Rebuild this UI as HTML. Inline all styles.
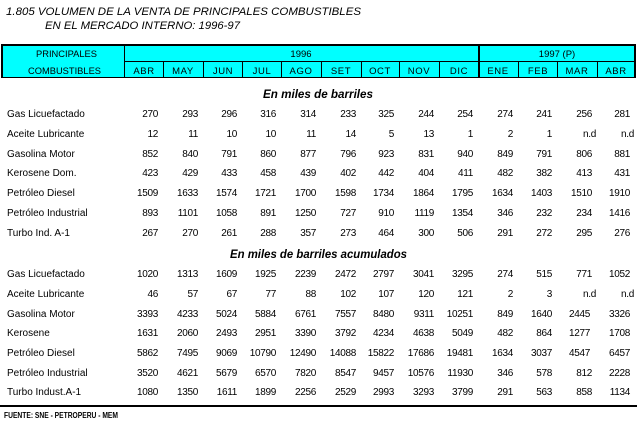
<!DOCTYPE html>
<html><head><meta charset="utf-8"><style>
html,body{margin:0;padding:0;background:#fff;}
svg{display:block;}
text{font-family:"Liberation Sans",Arial,sans-serif;fill:#000;}
.t{font-size:11px;font-style:italic;}
.h{font-size:9.5px;}
.s{font-size:11.5px;font-weight:bold;font-style:italic;}
.l{font-size:10px;}
.n{font-size:10px;letter-spacing:-0.3px;}
.f{font-size:8px;font-weight:bold;}
</style></head><body>
<svg width="637" height="424" viewBox="0 0 637 424" xmlns="http://www.w3.org/2000/svg">
<rect x="0" y="0" width="637" height="424" fill="#fff"/>
<text class="t" x="6" y="15" textLength="355" lengthAdjust="spacingAndGlyphs">1.805  VOLUMEN DE LA VENTA DE PRINCIPALES COMBUSTIBLES</text>
<text class="t" x="45" y="29" textLength="195" lengthAdjust="spacingAndGlyphs">EN EL MERCADO INTERNO: 1996-97</text>

<g shape-rendering="crispEdges">
<rect x="1" y="44" width="635" height="34" fill="#00ffff"/>
<rect x="1" y="44" width="635" height="2" fill="#000"/>
<rect x="1" y="77" width="635" height="1" fill="#000"/>
<rect x="124" y="61" width="511" height="1" fill="#000"/>
<rect x="1" y="44" width="2" height="34" fill="#000"/>
<rect x="634" y="44" width="2" height="34" fill="#000"/>
<rect x="124" y="44" width="1" height="34" fill="#000"/>
<rect x="478" y="44" width="2" height="34" fill="#000"/>
<rect x="163" y="61" width="1" height="17" fill="#000"/>
<rect x="203" y="61" width="1" height="17" fill="#000"/>
<rect x="242" y="61" width="1" height="17" fill="#000"/>
<rect x="281" y="61" width="1" height="17" fill="#000"/>
<rect x="321" y="61" width="1" height="17" fill="#000"/>
<rect x="361" y="61" width="1" height="17" fill="#000"/>
<rect x="399" y="61" width="1" height="17" fill="#000"/>
<rect x="439" y="61" width="1" height="17" fill="#000"/>
<rect x="518" y="61" width="1" height="17" fill="#000"/>
<rect x="557" y="61" width="1" height="17" fill="#000"/>
<rect x="597" y="61" width="1" height="17" fill="#000"/>
<rect x="0" y="405" width="637" height="2" fill="#000"/>
</g>

<text class="h" x="36" y="57" textLength="61" lengthAdjust="spacingAndGlyphs">PRINCIPALES</text>
<text class="h" x="28" y="74" textLength="73" lengthAdjust="spacingAndGlyphs">COMBUSTIBLES</text>
<text class="h" x="301" y="57" text-anchor="middle">1996</text>
<text class="h" x="557" y="57" text-anchor="middle">1997 (P)</text>
<text class="h" text-anchor="middle" y="74" letter-spacing="0.6"><tspan x="144">ABR</tspan><tspan x="183">MAY</tspan><tspan x="223">JUN</tspan><tspan x="262">JUL</tspan><tspan x="301">AGO</tspan><tspan x="341">SET</tspan><tspan x="380">OCT</tspan><tspan x="419">NOV</tspan><tspan x="459">DIC</tspan><tspan x="498">ENE</tspan><tspan x="538">FEB</tspan><tspan x="577">MAR</tspan><tspan x="616">ABR</tspan></text>

<text class="s" x="263" y="98" textLength="110" lengthAdjust="spacingAndGlyphs">En miles de barriles</text>
<text class="s" x="230" y="258" textLength="177" lengthAdjust="spacingAndGlyphs">En miles de barriles acumulados</text>

<text class="l" x="7" y="117">Gas Licuefactado</text>
<text class="l" x="7" y="137">Aceite Lubricante</text>
<text class="l" x="7" y="157">Gasolina Motor</text>
<text class="l" x="7" y="176">Kerosene Dom.</text>
<text class="l" x="7" y="196">Petróleo Diesel</text>
<text class="l" x="7" y="216">Petróleo Industrial</text>
<text class="l" x="7" y="236">Turbo Ind. A-1</text>

<text class="l" x="7" y="277">Gas Licuefactado</text>
<text class="l" x="7" y="297">Aceite Lubricante</text>
<text class="l" x="7" y="317">Gasolina Motor</text>
<text class="l" x="7" y="336">Kerosene</text>
<text class="l" x="7" y="356">Petróleo Diesel</text>
<text class="l" x="7" y="376">Petróleo Industrial</text>
<text class="l" x="7" y="395">Turbo Indust.A-1</text>

<text class="n" text-anchor="end" y="117"><tspan x="158">270</tspan><tspan x="198">293</tspan><tspan x="237">296</tspan><tspan x="276">316</tspan><tspan x="316">314</tspan><tspan x="356">233</tspan><tspan x="394">325</tspan><tspan x="434">244</tspan><tspan x="473">254</tspan><tspan x="513">274</tspan><tspan x="552">241</tspan><tspan x="592">256</tspan><tspan x="630">281</tspan></text>
<text class="n" text-anchor="end" y="137"><tspan x="158">12</tspan><tspan x="198">11</tspan><tspan x="237">10</tspan><tspan x="276">10</tspan><tspan x="316">11</tspan><tspan x="356">14</tspan><tspan x="394">5</tspan><tspan x="434">13</tspan><tspan x="473">1</tspan><tspan x="513">2</tspan><tspan x="552">1</tspan><tspan x="596">n.d</tspan><tspan x="634">n.d</tspan></text>
<text class="n" text-anchor="end" y="157"><tspan x="158">852</tspan><tspan x="198">840</tspan><tspan x="237">791</tspan><tspan x="276">860</tspan><tspan x="316">877</tspan><tspan x="356">796</tspan><tspan x="394">923</tspan><tspan x="434">831</tspan><tspan x="473">940</tspan><tspan x="513">849</tspan><tspan x="552">791</tspan><tspan x="592">806</tspan><tspan x="630">881</tspan></text>
<text class="n" text-anchor="end" y="176"><tspan x="158">423</tspan><tspan x="198">429</tspan><tspan x="237">433</tspan><tspan x="276">458</tspan><tspan x="316">439</tspan><tspan x="356">402</tspan><tspan x="394">442</tspan><tspan x="434">404</tspan><tspan x="473">411</tspan><tspan x="513">482</tspan><tspan x="552">382</tspan><tspan x="592">413</tspan><tspan x="630">431</tspan></text>
<text class="n" text-anchor="end" y="196"><tspan x="158">1509</tspan><tspan x="198">1633</tspan><tspan x="237">1574</tspan><tspan x="276">1721</tspan><tspan x="316">1700</tspan><tspan x="356">1598</tspan><tspan x="394">1734</tspan><tspan x="434">1864</tspan><tspan x="473">1795</tspan><tspan x="513">1634</tspan><tspan x="552">1403</tspan><tspan x="592">1510</tspan><tspan x="630">1910</tspan></text>
<text class="n" text-anchor="end" y="216"><tspan x="158">893</tspan><tspan x="198">1101</tspan><tspan x="237">1058</tspan><tspan x="276">891</tspan><tspan x="316">1250</tspan><tspan x="356">727</tspan><tspan x="394">910</tspan><tspan x="434">1119</tspan><tspan x="473">1354</tspan><tspan x="513">346</tspan><tspan x="552">232</tspan><tspan x="592">234</tspan><tspan x="630">1416</tspan></text>
<text class="n" text-anchor="end" y="236"><tspan x="158">267</tspan><tspan x="198">270</tspan><tspan x="237">261</tspan><tspan x="276">288</tspan><tspan x="316">357</tspan><tspan x="356">273</tspan><tspan x="394">464</tspan><tspan x="434">300</tspan><tspan x="473">506</tspan><tspan x="513">291</tspan><tspan x="552">272</tspan><tspan x="592">295</tspan><tspan x="630">276</tspan></text>

<text class="n" text-anchor="end" y="277"><tspan x="158">1020</tspan><tspan x="198">1313</tspan><tspan x="237">1609</tspan><tspan x="276">1925</tspan><tspan x="316">2239</tspan><tspan x="356">2472</tspan><tspan x="394">2797</tspan><tspan x="434">3041</tspan><tspan x="473">3295</tspan><tspan x="513">274</tspan><tspan x="552">515</tspan><tspan x="592">771</tspan><tspan x="630">1052</tspan></text>
<text class="n" text-anchor="end" y="297"><tspan x="158">46</tspan><tspan x="198">57</tspan><tspan x="237">67</tspan><tspan x="276">77</tspan><tspan x="316">88</tspan><tspan x="356">102</tspan><tspan x="394">107</tspan><tspan x="434">120</tspan><tspan x="473">121</tspan><tspan x="513">2</tspan><tspan x="552">3</tspan><tspan x="596">n.d</tspan><tspan x="634">n.d</tspan></text>
<text class="n" text-anchor="end" y="317"><tspan x="158">3393</tspan><tspan x="198">4233</tspan><tspan x="237">5024</tspan><tspan x="276">5884</tspan><tspan x="316">6761</tspan><tspan x="356">7557</tspan><tspan x="394">8480</tspan><tspan x="434">9311</tspan><tspan x="473">10251</tspan><tspan x="513">849</tspan><tspan x="552">1640</tspan><tspan x="590">2445</tspan><tspan x="630">3326</tspan></text>
<text class="n" text-anchor="end" y="336"><tspan x="158">1631</tspan><tspan x="198">2060</tspan><tspan x="237">2493</tspan><tspan x="276">2951</tspan><tspan x="316">3390</tspan><tspan x="356">3792</tspan><tspan x="394">4234</tspan><tspan x="434">4638</tspan><tspan x="473">5049</tspan><tspan x="513">482</tspan><tspan x="552">864</tspan><tspan x="590">1277</tspan><tspan x="630">1708</tspan></text>
<text class="n" text-anchor="end" y="356"><tspan x="158">5862</tspan><tspan x="198">7495</tspan><tspan x="237">9069</tspan><tspan x="276">10790</tspan><tspan x="316">12490</tspan><tspan x="356">14088</tspan><tspan x="394">15822</tspan><tspan x="434">17686</tspan><tspan x="473">19481</tspan><tspan x="513">1634</tspan><tspan x="552">3037</tspan><tspan x="590">4547</tspan><tspan x="630">6457</tspan></text>
<text class="n" text-anchor="end" y="376"><tspan x="158">3520</tspan><tspan x="198">4621</tspan><tspan x="237">5679</tspan><tspan x="276">6570</tspan><tspan x="316">7820</tspan><tspan x="356">8547</tspan><tspan x="394">9457</tspan><tspan x="434">10576</tspan><tspan x="473">11930</tspan><tspan x="513">346</tspan><tspan x="552">578</tspan><tspan x="592">812</tspan><tspan x="630">2228</tspan></text>
<text class="n" text-anchor="end" y="395"><tspan x="158">1080</tspan><tspan x="198">1350</tspan><tspan x="237">1611</tspan><tspan x="276">1899</tspan><tspan x="316">2256</tspan><tspan x="356">2529</tspan><tspan x="394">2993</tspan><tspan x="434">3293</tspan><tspan x="473">3799</tspan><tspan x="513">291</tspan><tspan x="552">563</tspan><tspan x="592">858</tspan><tspan x="630">1134</tspan></text>

<text class="f" x="4" y="418" textLength="114" lengthAdjust="spacingAndGlyphs">FUENTE: SNE - PETROPERU - MEM</text>
</svg>
</body></html>
